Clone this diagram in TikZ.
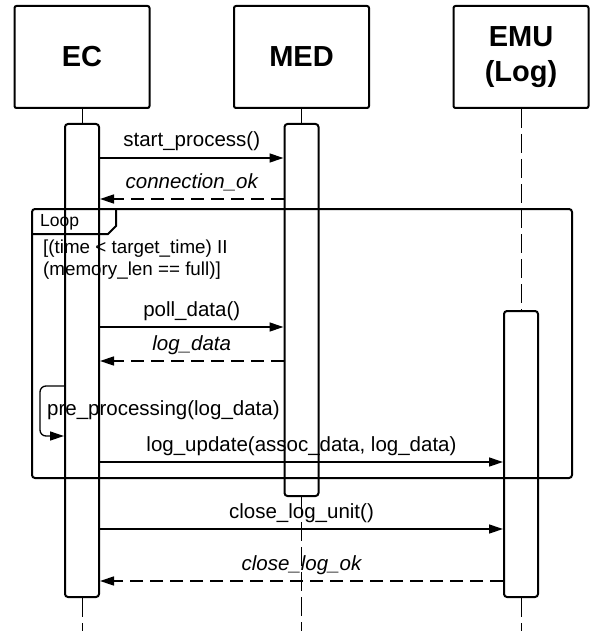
\documentclass[tikz,border=0pt]{standalone}
\usepackage{fontspec}
\setmainfont{Liberation Sans}
\usetikzlibrary{arrows.meta}

\begin{document}
\begin{tikzpicture}[x=1pt, y=-1pt,
    actor/.style={draw, line width=2pt, rounded corners=2pt, minimum width=135pt, minimum height=102pt, inner sep=0pt, align=center, font=\fontsize{29pt}{35pt}\selectfont\bfseries},
    bar/.style={draw, line width=2pt, rounded corners=3pt, minimum width=34pt, inner sep=0pt},
    frame/.style={line width=2pt},
    lifeline/.style={line width=1pt, dash pattern=on 19pt off 6pt},
    call/.style={line width=1.3pt, -{Triangle[length=14pt,width=9pt]}},
    reply/.style={line width=1.5pt, dash pattern=on 13pt off 7pt, -{Triangle[length=14pt,width=9pt]}},
    msglabel/.style={anchor=base, yshift=11pt, inner sep=0pt, font=\fontsize{20.5pt}{24pt}\selectfont},
    replylabel/.style={msglabel, font=\fontsize{20.5pt}{24pt}\selectfont\itshape}]
    \useasboundingbox (0,0) rectangle (590,631);

    % Participant boxes
    \node[actor] (ec) at (82,57) {EC};%
    \node[actor] (med) at (301.5,57) {MED};%
    \node[actor] (emu) at (521,57) {EMU\\(Log)};%

    % Activation bars
    \node[bar, minimum height=473pt] (ecbar) at (82,360.5) {};%
    \node[bar, minimum height=372pt] (medbar) at (301.5,310) {};%
    \node[bar, minimum height=286pt] (emubar) at (521,454) {};%

    % Lower ends of the lifelines
    \coordinate (ecend) at (82,631);%
    \coordinate (medend) at (301.5,631);%
    \coordinate (emuend) at (521,631);%

    % Drawing lifelines
    \draw[lifeline] (ec.south) -- (ecbar.north);%
    \draw[lifeline] (ecbar.south) -- (ecend);%
    \draw[lifeline] (med.south) -- (medbar.north);%
    \draw[lifeline] (medbar.south) -- (medend);%
    \draw[lifeline] (emu.south) -- (emubar.north);%
    \draw[lifeline] (emubar.south) -- (emuend);%

    % Drawing loop frame
    \node[draw, frame, rounded corners=3pt, minimum width=540pt, minimum height=269pt, inner sep=0pt] (loop) at (302,343.5) {};%
    \draw[frame] (32,234) -- (108,234) -- (116,226) -- (116,209);%
    \node[anchor=base west, inner sep=0pt, font=\fontsize{17.5pt}{20pt}\selectfont] (looplabel) at (40,226) {Loop};%
    \node[anchor=north west, inner sep=0pt, align=left, font=\fontsize{18.8pt}{22pt}\selectfont] (guard) at (43,240) {[(time < target\_time) II\\(memory\_len == full)]};%

    % Drawing message start_process
    \draw[call] (ecbar.east |- 0,158) -- (medbar.west |- 0,158) node[msglabel, midway] {start\_process()};%

    % Drawing message connection_ok
    \draw[reply] (medbar.west |- 0,199) -- (ecbar.east |- 0,199) node[replylabel, midway] {connection\_ok};%

    % Drawing message poll_data
    \draw[call] (ecbar.east |- 0,327) -- (medbar.west |- 0,327) node[msglabel, midway] {poll\_data()};%

    % Drawing message log_data
    \draw[reply] (medbar.west |- 0,361) -- (ecbar.east |- 0,361) node[replylabel, midway] {log\_data};%

    % Drawing self message pre_processing
    \draw[call, rounded corners=6pt] (ecbar.west |- 0,386) -- (40,386) -- (40,436) -- (ecbar.west |- 0,436);%
    \node[anchor=base west, inner sep=0pt, font=\fontsize{20.5pt}{24pt}\selectfont] (prelabel) at (47,415) {pre\_processing(log\_data)};%

    % Drawing message log_update
    \draw[call] (ecbar.east |- 0,462) -- (emubar.west |- 0,462) node[msglabel, midway] {log\_update(assoc\_data, log\_data)};%

    % Drawing message close_log_unit
    \draw[call] (ecbar.east |- 0,529) -- (emubar.west |- 0,529) node[msglabel, midway] {close\_log\_unit()};%

    % Drawing message close_log_ok
    \draw[reply] (emubar.west |- 0,581) -- (ecbar.east |- 0,581) node[replylabel, midway] {close\_log\_ok};%
\end{tikzpicture}
\end{document}
